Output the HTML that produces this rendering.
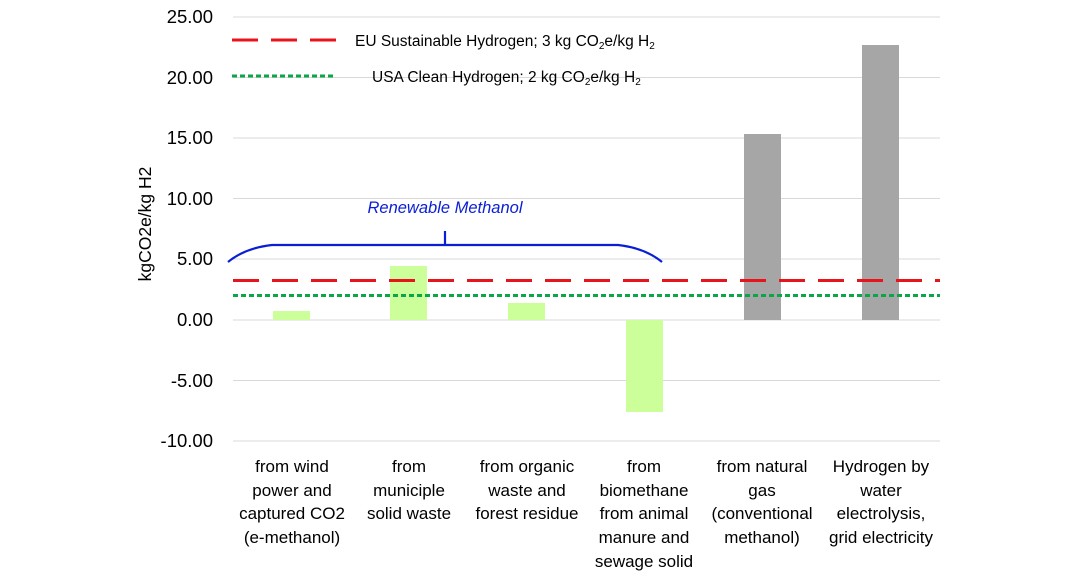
<!DOCTYPE html>
<html><head><meta charset="utf-8"><style>
body{margin:0;background:#fff;}
svg{display:block;font-family:"Liberation Sans",Arial,sans-serif;}
</style></head><body>
<svg width="1068" height="580" viewBox="0 0 1068 580">
<g stroke="#d9d9d9" stroke-width="1">
<line x1="233" x2="940" y1="17" y2="17"/>
<line x1="233" x2="940" y1="77.5" y2="77.5"/>
<line x1="233" x2="940" y1="138" y2="138"/>
<line x1="233" x2="940" y1="198.5" y2="198.5"/>
<line x1="233" x2="940" y1="259" y2="259"/>
<line x1="233" x2="940" y1="320" y2="320"/>
<line x1="233" x2="940" y1="380.5" y2="380.5"/>
<line x1="233" x2="940" y1="441" y2="441"/>
</g>
<g font-size="18.5" fill="#000" text-anchor="end">
<text x="213" y="23">25.00</text>
<text x="213" y="84">20.00</text>
<text x="213" y="144">15.00</text>
<text x="213" y="205">10.00</text>
<text x="213" y="265">5.00</text>
<text x="213" y="326">0.00</text>
<text x="213" y="387">-5.00</text>
<text x="213" y="447">-10.00</text>
</g>
<text transform="translate(151,224) rotate(-90)" font-size="17.5" text-anchor="middle">kgCO2e/kg H2</text>
<g fill="#ccff99">
<rect x="273" y="311" width="37" height="9"/>
<rect x="390" y="266" width="37" height="54"/>
<rect x="508" y="303" width="37" height="17"/>
<rect x="626" y="320" width="37" height="92"/>
</g>
<g fill="#a6a6a6">
<rect x="744" y="134" width="37" height="186"/>
<rect x="862" y="45" width="37" height="275"/>
</g>
<line x1="233" x2="940" y1="280.5" y2="280.5" stroke="#e8141b" stroke-width="3" stroke-dasharray="26 13"/>
<line x1="233" x2="940" y1="295.5" y2="295.5" stroke="#0aa64a" stroke-width="3" stroke-dasharray="5 3"/>
<line x1="232" x2="336" y1="40" y2="40" stroke="#e8141b" stroke-width="3" stroke-dasharray="26 13"/>
<line x1="232" x2="336" y1="76" y2="76" stroke="#0aa64a" stroke-width="3" stroke-dasharray="5 3"/>
<text x="355" y="46" font-size="15.5">EU Sustainable Hydrogen; 3 kg CO<tspan font-size="10" dy="3">2</tspan><tspan dy="-3">e/kg H</tspan><tspan font-size="10" dy="3">2</tspan></text>
<text x="372" y="82" font-size="15.5">USA Clean Hydrogen; 2 kg CO<tspan font-size="10" dy="3">2</tspan><tspan dy="-3">e/kg H</tspan><tspan font-size="10" dy="3">2</tspan></text>
<path d="M228 262 Q245 248 272 245 L618 245 Q645 248 662 262 M445 245 L445 231" fill="none" stroke="#0a1ed6" stroke-width="2.2"/>
<text x="445" y="213" font-size="16.5" font-style="italic" fill="#0a1ed6" text-anchor="middle">Renewable Methanol</text>
<g font-size="17" text-anchor="middle">
<text x="292" y="472">from wind</text><text x="292" y="496">power and</text><text x="292" y="519">captured CO2</text><text x="292" y="543">(e-methanol)</text>
<text x="409" y="472">from</text><text x="409" y="496">municiple</text><text x="409" y="519">solid waste</text>
<text x="527" y="472">from organic</text><text x="527" y="496">waste and</text><text x="527" y="519">forest residue</text>
<text x="644" y="472">from</text><text x="644" y="496">biomethane</text><text x="644" y="519">from animal</text><text x="644" y="543">manure and</text><text x="644" y="567">sewage solid</text><text x="644" y="591">waste</text>
<text x="762" y="472">from natural</text><text x="762" y="496">gas</text><text x="762" y="519">(conventional</text><text x="762" y="543">methanol)</text>
<text x="881" y="472">Hydrogen by</text><text x="881" y="496">water</text><text x="881" y="519">electrolysis,</text><text x="881" y="543">grid electricity</text>
</g>
</svg>
</body></html>
